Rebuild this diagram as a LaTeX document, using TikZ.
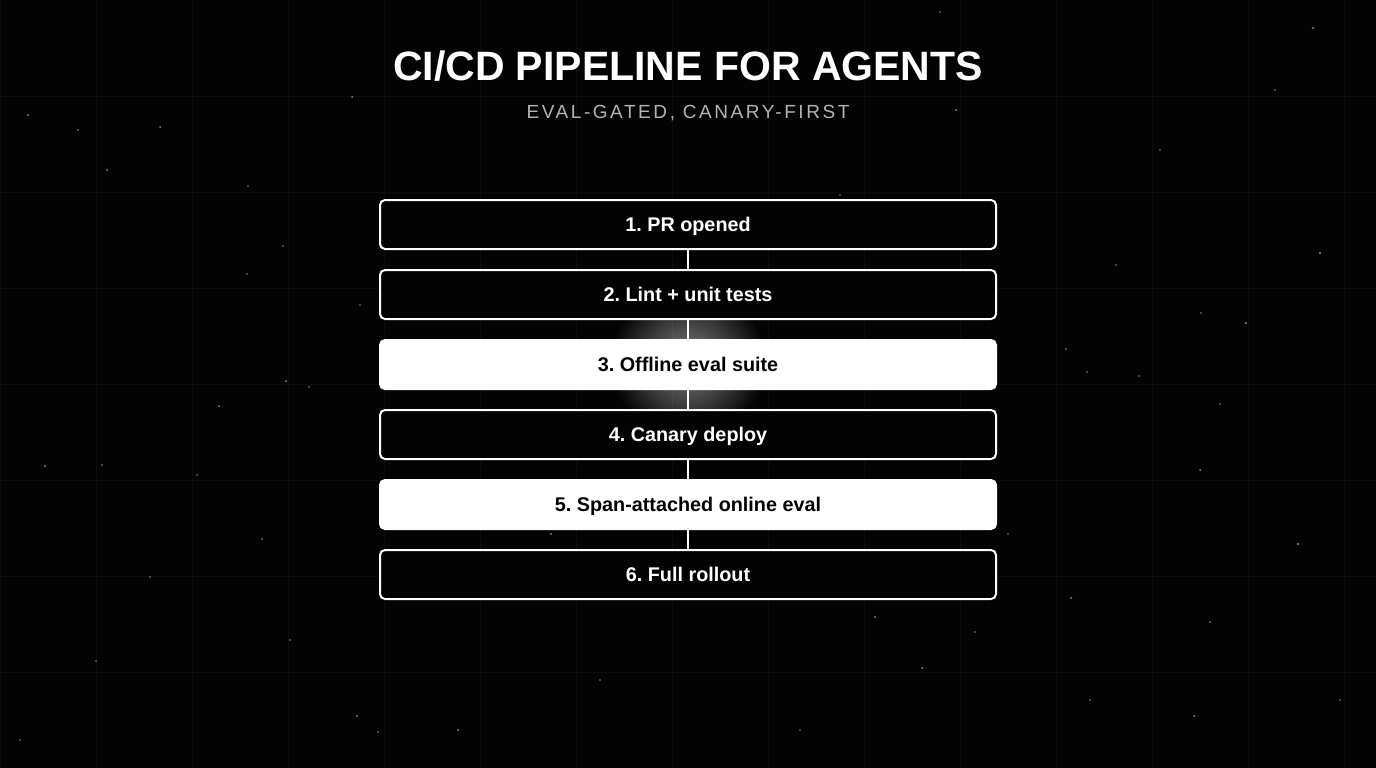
\documentclass[tikz,border=0pt]{standalone}
\usepackage{fontspec}
\setmainfont{Liberation Sans}
\usetikzlibrary{fadings}
\tikzfading[name=glowfade, inner color=transparent!50, outer color=transparent!100]
\definecolor{bg}{HTML}{030303}
\definecolor{gridc}{HTML}{0D0D0D}
\definecolor{subc}{HTML}{B4B4B4}
\frenchspacing
\tikzset{
  stepbox/.style={draw=white, line width=2pt, rounded corners=5pt, minimum width=616pt, minimum height=49pt, inner sep=0pt, text height=14pt, text depth=0pt, font=\fontsize{19.8}{22}\selectfont\bfseries},
  darkbox/.style={stepbox, fill=bg, text=white},
  litebox/.style={stepbox, fill=white, text=black},
  link/.style={draw=white, line width=1.6pt},
  star/.style={fill=white!55!black}
}
\begin{document}
\begin{tikzpicture}[x=1pt,y=-1pt]
\fill[bg] (0,0) rectangle (1376,768);
\useasboundingbox (0,0) rectangle (1376,768);
% grid
\foreach \gx in {0,96,...,1376} \draw[gridc, line width=1pt] (\gx,0) -- (\gx,768);
\foreach \gy in {0,96,...,768} \draw[gridc, line width=1pt] (0,\gy) -- (1376,\gy);
% stars
\foreach \sx/\sy/\sr in {1313/28/1.2, 352/97/1, 940/12/0.8, 956/110/1, 1320/253/1.2, 1246/323/1.2, 1201/313/0.8, 896/302/0.8, 1066/349/0.8, 1087/372/0.8, 1139/376/0.8, 1220/404/0.8, 1200/470/1, 1298/544/1.2, 1071/598/1, 945/587/1, 875/617/1, 975/632/0.8, 922/668/1, 1210/622/0.8, 1194/716/1, 1090/700/0.8, 357/716/1, 378/732/0.8, 458/730/1, 506/587/0.8, 551/534/1, 597/575/0.8, 524/427/1, 441/386/1, 309/387/0.8, 286/381/1, 219/406/1, 197/475/0.8, 102/465/0.8, 45/466/1, 262/539/0.8, 150/577/0.8, 96/661/0.8, 290/640/0.8, 360/305/0.8, 247/274/0.8, 283/246/0.8, 28/115/1, 78/130/0.8, 107/170/1, 160/127/1, 248/186/0.8, 1008/534/0.8, 1116/265/0.8, 840/195/0.8, 1340/700/0.8, 20/740/0.8, 1160/150/0.8, 1275/90/0.8, 600/680/0.8, 800/730/0.8}
  \fill[star] (\sx,\sy) circle (\sr);
% glow
\fill[white, path fading=glowfade] (688,362) circle (78);
% title
\node (title) at (688,66) {\fontsize{41}{48}\selectfont\bfseries\color{white} CI/CD PIPELINE FOR AGENTS};
\node (sub) at (688,113) {\addfontfeatures{LetterSpace=13.5}\fontsize{19}{22}\selectfont\color{subc} EVAL-GATED, CANARY-FIRST};
% boxes
\node[darkbox] (s1) at (688,224.5) {1. PR opened};
\node[darkbox] (s2) at (688,294.5) {2. Lint + unit tests};
\node[litebox] (s3) at (688,364.5) {3. Offline eval suite};
\node[darkbox] (s4) at (688,434.5) {4. Canary deploy};
\node[litebox] (s5) at (688,504.5) {5. Span-attached online eval};
\node[darkbox] (s6) at (688,574.5) {6. Full rollout};
\draw[link] (s1) -- (s2);
\draw[link] (s2) -- (s3);
\draw[link] (s3) -- (s4);
\draw[link] (s4) -- (s5);
\draw[link] (s5) -- (s6);
\end{tikzpicture}
\end{document}
